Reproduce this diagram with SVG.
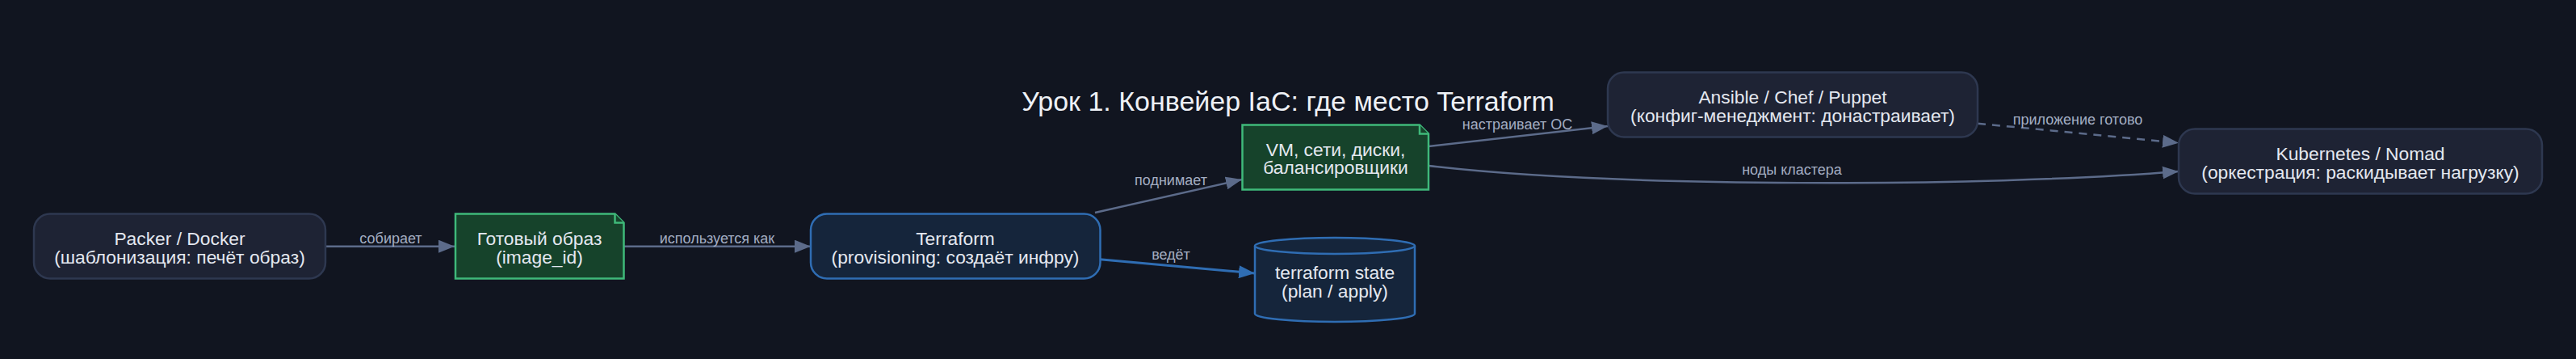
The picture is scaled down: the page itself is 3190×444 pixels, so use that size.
<svg xmlns="http://www.w3.org/2000/svg" width="3190" height="444" viewBox="0 0 3190 444">
<style>
text{font-family:"Liberation Sans",Arial,sans-serif;text-anchor:middle}
.t{font-size:22.8px;fill:#e4e8f0}
.l{font-size:18px;fill:#a3adc2}
.title{font-size:34px;fill:#eef1f6}
.gray{fill:#1e2334;stroke:#2e3850;stroke-width:2.5}
.note{fill:#16432b;stroke:#3fb97a;stroke-width:2.5}
.blue{fill:#15253b;stroke:#2f6db3;stroke-width:2.5}
.e{fill:none;stroke:#5c6b8a;stroke-width:2.5}
.eb{fill:none;stroke:#2f6db3;stroke-width:3}
</style>
<defs>
<marker id="ag" viewBox="0 0 20 16" refX="20" refY="8" markerWidth="20" markerHeight="16" markerUnits="userSpaceOnUse" orient="auto"><path d="M0,0 L20,8 L0,16 Z" fill="#5c6b8a"/></marker>
<marker id="ab" viewBox="0 0 20 16" refX="20" refY="8" markerWidth="20" markerHeight="16" markerUnits="userSpaceOnUse" orient="auto"><path d="M0,0 L20,8 L0,16 Z" fill="#2f6db3"/></marker>
</defs>
<rect width="3190" height="444" fill="#111520"/>
<text class="title" x="1595" y="137">Урок 1. Конвейер IaC: где место Terraform</text>
<g id="connectors">
<path class="e" d="M403,304.7 L563,304.7" marker-end="url(#ag)"/>
<text class="l" x="484" y="301">собирает</text>
<path class="e" d="M772,304.7 L1004,304.7" marker-end="url(#ag)"/>
<text class="l" x="888" y="301">используется как</text>
<path class="e" d="M1356,263 L1538,222" marker-end="url(#ag)"/>
<text class="l" x="1450" y="229">поднимает</text>
<path class="eb" d="M1362,320.7 L1554,338" marker-end="url(#ab)"/>
<text class="l" x="1450" y="321">ведёт</text>
<path class="e" d="M1769,181 L1991,156" marker-end="url(#ag)"/>
<text class="l" x="1879" y="160">настраивает ОС</text>
<path class="e" d="M1769,205 C2000,232 2450,232 2698,212" marker-end="url(#ag)"/>
<text class="l" x="2219" y="216">ноды кластера</text>
<path class="e" d="M2449,152.7 L2698,176.7" stroke-dasharray="10,8" marker-end="url(#ag)"/>
<text class="l" x="2573" y="154">приложение готово</text>
</g>
<g id="packer">
<rect class="gray" x="42" y="264.5" width="361" height="80" rx="20"/>
<text class="t" x="222.5" y="303">Packer / Docker</text>
<text class="t" x="222.5" y="326">(шаблонизация: печёт образ)</text>
</g>
<g id="image">
<path class="note" d="M564,264.5 H761.5 L772.5,275.5 V344.5 H564 Z"/>
<path class="note" d="M761.5,264.5 V275.5 H772.5" fill="none"/>
<text class="t" x="668" y="303">Готовый образ</text>
<text class="t" x="668" y="326">(image_id)</text>
</g>
<g id="terraform">
<rect class="blue" x="1004" y="264.5" width="358.5" height="80" rx="20"/>
<text class="t" x="1183" y="303">Terraform</text>
<text class="t" x="1183" y="326">(provisioning: создаёт инфру)</text>
</g>
<g id="vm">
<path class="note" d="M1538.5,154.5 H1758 L1769,165.5 V234.5 H1538.5 Z"/>
<path class="note" d="M1758,154.5 V165.5 H1769" fill="none"/>
<text class="t" x="1654" y="193">VM, сети, диски,</text>
<text class="t" x="1654" y="215">балансировщики</text>
</g>
<g id="state">
<path class="blue" d="M1554,304 A99,10 0 0 1 1752,304 V388 A99,10 0 0 1 1554,388 Z"/>
<path class="blue" d="M1554,304 A99,10 0 0 0 1752,304" fill="none"/>
<text class="t" x="1653" y="345">terraform state</text>
<text class="t" x="1653" y="368">(plan / apply)</text>
</g>
<g id="ansible">
<rect class="gray" x="1991" y="89.5" width="458" height="80" rx="20"/>
<text class="t" x="2220" y="128">Ansible / Chef / Puppet</text>
<text class="t" x="2220" y="151">(конфиг-менеджмент: донастраивает)</text>
</g>
<g id="kubernetes">
<rect class="gray" x="2698" y="159.5" width="450" height="80" rx="20"/>
<text class="t" x="2923" y="198">Kubernetes / Nomad</text>
<text class="t" x="2923" y="221">(оркестрация: раскидывает нагрузку)</text>
</g>
</svg>
